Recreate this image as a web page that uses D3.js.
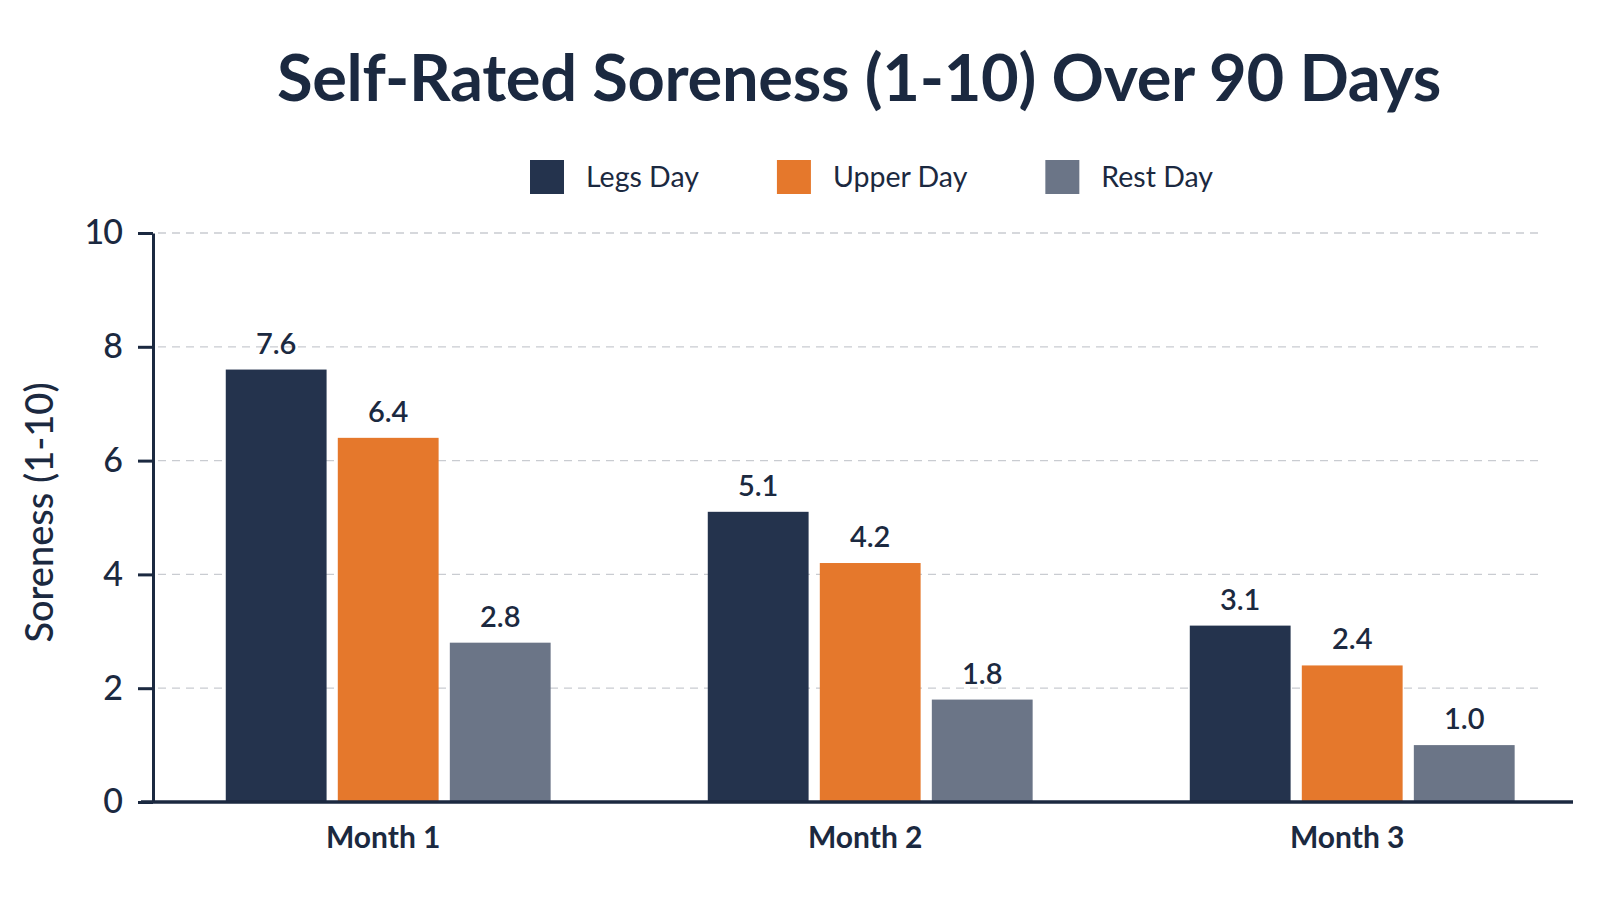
<!DOCTYPE html>
<html>
<head>
<meta charset="utf-8">
<script src="https://cdn.jsdelivr.net/npm/d3@7"></script>
<style>
  html, body { margin: 0; padding: 0; background: #ffffff; }
  #chart { width: 1599px; height: 900px; }
  text { font-family: Lato, "Noto Sans", sans-serif; fill: #1b2940; }
</style>
</head>
<body>
<div id="chart"></div>
<script>
const months = ["Month 1", "Month 2", "Month 3"];
const seriesKeys = ["legs", "upper", "rest"];
const seriesNames = ["Legs Day", "Upper Day", "Rest Day"];
const legsValues = [7.6, 5.1, 3.1];
const upperValues = [6.4, 4.2, 2.4];
const restValues = [2.8, 1.8, 1.0];
const yTicks = [0, 2, 4, 6, 8, 10];

function renderChart(containerSelector) {
    const container = d3.select(containerSelector);
    const width = 1599;
    const height = 900;

    container.selectAll("*").remove();

    const chartData = months.map((m, i) => ({
        month: m,
        legs: legsValues[i],
        upper: upperValues[i],
        rest: restValues[i]
    }));

    const margin = { top: 233, right: 26, bottom: 98, left: 153 };

    const svg = container.append("svg")
        .attr("width", width)
        .attr("height", height);

    const x = d3.scaleBand()
        .domain(months)
        .range([margin.left, width - margin.right])
        .paddingInner(0.326)
        .paddingOuter(0.136)
        .align(0.555);

    const xSub = d3.scaleBand()
        .domain(seriesKeys)
        .range([0, x.bandwidth()])
        .paddingInner(0.1);

    const y = d3.scaleLinear()
        .domain([0, 10])
        .range([height - margin.bottom, margin.top]);

    const color = d3.scaleOrdinal()
        .domain(seriesKeys)
        .range(["#24334d", "#e5782c", "#6b7587"]);

    // title
    svg.append("text")
        .attr("x", 859)
        .attr("y", 101)
        .attr("text-anchor", "middle")
        .style("font-size", "65px")
        .style("font-weight", 700)
        .style("letter-spacing", "-0.3px")
        .text("Self-Rated Soreness (1-10) Over 90 Days");

    // grids
    svg.append("g")
        .selectAll("line")
        .data(yTicks.filter(d => d > 0))
        .join("line")
        .attr("x1", margin.left + 5)
        .attr("x2", 1538)
        .attr("y1", d => y(d))
        .attr("y2", d => y(d))
        .attr("stroke", "#c9ccd1")
        .attr("stroke-width", 1.3)
        .attr("stroke-dasharray", "8,6");

    // bars
    const groups = svg.selectAll("g.month")
        .data(chartData)
        .join("g")
        .attr("class", "month")
        .attr("transform", d => `translate(${x(d.month)},0)`);

    groups.selectAll("rect")
        .data(d => seriesKeys.map(k => ({ key: k, value: d[k] })))
        .join("rect")
        .attr("x", d => xSub(d.key))
        .attr("y", d => y(d.value))
        .attr("width", xSub.bandwidth())
        .attr("height", d => y(0) - y(d.value))
        .attr("fill", d => color(d.key));

    groups.selectAll("text.value")
        .data(d => seriesKeys.map(k => ({ key: k, value: d[k] })))
        .join("text")
        .attr("class", "value")
        .attr("x", d => xSub(d.key) + xSub.bandwidth() / 2)
        .attr("y", d => y(d.value) - 16)
        .attr("text-anchor", "middle")
        .style("font-size", "29px")
        .style("font-weight", 600)
        .text(d => d3.format(".1f")(d.value));

    // y axis
    const yAxis = svg.append("g")
        .attr("transform", `translate(${margin.left},0)`)
        .call(d3.axisLeft(y).tickValues(yTicks).tickSize(15).tickPadding(16).tickSizeOuter(0));
    yAxis.select(".domain").attr("stroke", "#1b2940").attr("stroke-width", 3);
    yAxis.selectAll(".tick line").attr("stroke", "#1b2940").attr("stroke-width", 3);
    yAxis.selectAll(".tick text")
        .style("font-size", "34px")
        .style("font-weight", 500)
        .style("letter-spacing", "-1px")
        .style("fill", "#1b2940")
        .style("font-family", "Lato, sans-serif");

    // x axis
    const xAxis = svg.append("g")
        .attr("transform", `translate(0,${y(0)})`)
        .call(d3.axisBottom(x).tickSize(0).tickPadding(25));
    xAxis.select(".domain").remove();
    xAxis.append("line")
        .attr("x1", margin.left - 12)
        .attr("x2", width - margin.right)
        .attr("stroke", "#1b2940")
        .attr("stroke-width", 3.5);
    xAxis.selectAll(".tick text")
        .attr("dx", "-5px")
        .style("font-size", "30px")
        .style("font-weight", 700)
        .style("fill", "#1b2940")
        .style("font-family", "Lato, sans-serif");

    // y label
    svg.append("text")
        .attr("transform", `translate(53,${(y(0) + y(10)) / 2 - 5}) rotate(-90)`)
        .attr("text-anchor", "middle")
        .style("font-size", "38px")
        .style("font-weight", 500)
        .text("Soreness (1-10)");

    // Legend
    const legend = svg.append("g")
        .attr("transform", `translate(530, 177)`);

    let offset = 0;
    seriesKeys.forEach((c, i) => {
        const lg = legend.append("g").attr("transform", `translate(${offset}, 0)`);
        lg.append("rect").attr("y", -17).attr("width", 34).attr("height", 34).attr("fill", color(c));
        const t = lg.append("text").attr("x", 56).attr("y", 10)
            .style("font-size", "28.5px")
            .text(seriesNames[i]);
        offset += 56 + t.node().getComputedTextLength() + 78;
    });
}

renderChart("#chart");
</script>
</body>
</html>
